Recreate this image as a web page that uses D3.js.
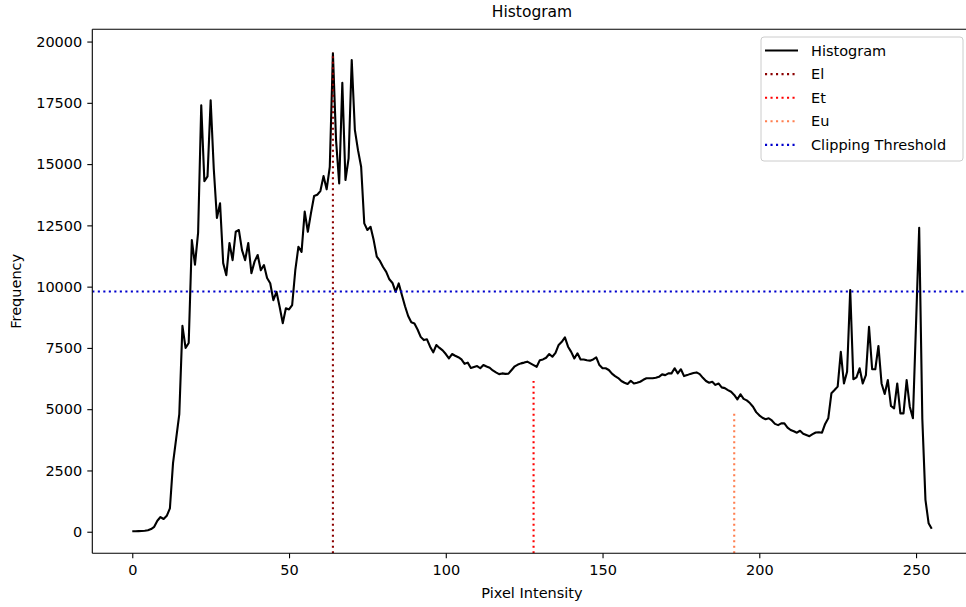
<!DOCTYPE html>
<html>
<head>
<meta charset="utf-8">
<script src="https://cdn.jsdelivr.net/npm/d3@7"></script>
<style>
  html, body { margin: 0; padding: 0; background: #fff; overflow: hidden; }
  text { font-family: "DejaVu Sans", sans-serif; fill: #000; }
</style>
</head>
<body>
<svg id="chart" width="966" height="607"></svg>
<script>
// Histogram frequencies for pixel intensities 0..255
const frequency = [
  20, 20, 25, 30, 40, 60, 110, 200, 450, 600,            // 0-9
  520, 650, 950, 2800, 3800, 4800, 8400, 7500, 7700, 11900, // 10-19
  10900, 12200, 17400, 14300, 14500, 17600, 14800, 12800, 13400, 10960, // 20-29
  10470, 11780, 11080, 12240, 12310, 11490, 11080, 11780, 10550, 11020, // 30-39
  11290, 10670, 10880, 10350, 10140, 9450, 9790, 9180, 8510, 9120, // 40-49
  9070, 9250, 10670, 11630, 11420, 13060, 12240, 13000, 13700, 13750, // 50-59
  13900, 14510, 13970, 14890, 19520, 15980, 14210, 18320, 14350, 15230, // 60-69
  19250, 16400, 15570, 14890, 12580, 12310, 12440, 11900, 11220, 11050, // 70-79
  10800, 10600, 10300, 10150, 9790, 10130, 9660, 9200, 8800, 8550, // 80-89
  8500, 8250, 7950, 7820, 7850, 7550, 7320, 7620, 7500, 7400, // 90-99
  7250, 7070, 7250, 7180, 7120, 7030, 6850, 6900, 6680, 6720, // 100-109
  6760, 6670, 6800, 6740, 6690, 6580, 6500, 6430, 6460, 6440, // 110-119
  6450, 6600, 6750, 6820, 6870, 6900, 6940, 6870, 6800, 6730, // 120-129
  7000, 7030, 7100, 7250, 7140, 7300, 7620, 7750, 7930, 7550, // 130-139
  7340, 7070, 7280, 7030, 7030, 7000, 6980, 7030, 7110, 6800, // 140-149
  6670, 6670, 6600, 6450, 6350, 6270, 6150, 6080, 6030, 6160, // 150-159
  6050, 6080, 6120, 6200, 6260, 6260, 6260, 6280, 6320, 6420, // 160-169
  6390, 6460, 6460, 6670, 6460, 6630, 6350, 6390, 6440, 6480, // 170-179
  6500, 6430, 6280, 6150, 6080, 6120, 5990, 6050, 5890, 5860, // 180-189
  5780, 5710, 5580, 5400, 5610, 5420, 5360, 5250, 5100, 4880, // 190-199
  4750, 4650, 4590, 4630, 4540, 4400, 4350, 4420, 4420, 4250, // 200-209
  4150, 4100, 4040, 4120, 4000, 3950, 3900, 3980, 4050, 4060, // 210-219
  4040, 4400, 4630, 5650, 5780, 5920, 7340, 6050, 6530, 9860, // 220-229
  6220, 6300, 6670, 6050, 6390, 8360, 6630, 6630, 7580, 6050, // 230-239
  5620, 6190, 5130, 5030, 6050, 4830, 4830, 6190, 5100, 4630, // 240-249
  8500, 12400, 4600, 1300, 350, 120                        // 250-255
];

// Threshold markers
const markerNames = ["El", "Et", "Eu"];
const markerX = [64, 128, 192];
const markerTop = [19550, 6150, 4830];
const markerColors = ["#8b0000", "red", "coral"];

const clipThreshold = 9800;

const xTicks = [0, 50, 100, 150, 200, 250];
const yTicks = [0, 2500, 5000, 7500, 10000, 12500, 15000, 17500, 20000];

const legendLabels = ["Histogram", "El", "Et", "Eu", "Clipping Threshold"];

// ---- layout ----
const svg = d3.select("#chart");
const mLeft = 92.3, mTop = 29.3, plotW = 879.4, plotH = 524;
const x = d3.scaleLinear().domain([-12.75, 267.75]).range([mLeft, mLeft + plotW]);
const y = d3.scaleLinear().domain([-880, 20500]).range([mTop + plotH, mTop]);

svg.append("defs").append("clipPath").attr("id", "plotclip")
  .append("rect").attr("x", mLeft).attr("y", mTop).attr("width", plotW).attr("height", plotH);

const plot = svg.append("g").attr("clip-path", "url(#plotclip)");

const line = d3.line().x((d, i) => x(i)).y(d => y(d));
plot.append("path")
  .datum(frequency)
  .attr("d", line)
  .attr("fill", "none")
  .attr("stroke", "#000")
  .attr("stroke-width", 2.1)
  .attr("stroke-linejoin", "round");

const dotted = "2.1,3.4";
markerX.forEach((mx, i) => {
  plot.append("line")
    .attr("x1", x(mx)).attr("x2", x(mx))
    .attr("y1", y(y.domain()[0])).attr("y2", y(markerTop[i]))
    .attr("stroke", markerColors[i])
    .attr("stroke-width", 2.1)
    .attr("stroke-dasharray", dotted);
});

plot.append("line")
  .attr("x1", x(x.domain()[0])).attr("x2", x(x.domain()[1]))
  .attr("y1", y(clipThreshold)).attr("y2", y(clipThreshold))
  .attr("stroke", "mediumblue")
  .attr("stroke-width", 2.1)
  .attr("stroke-dasharray", dotted);

// ---- axes ----
const xAxis = svg.append("g")
  .attr("transform", `translate(0,${mTop + plotH})`)
  .call(d3.axisBottom(x).tickValues(xTicks).tickSize(5).tickPadding(6).tickFormat(d3.format("d")));
const yAxis = svg.append("g")
  .attr("transform", `translate(${mLeft},0)`)
  .call(d3.axisLeft(y).tickValues(yTicks).tickSize(5).tickPadding(5).tickFormat(d3.format("d")));

[xAxis, yAxis].forEach(g => {
  g.select(".domain").remove();
  g.selectAll(".tick line").attr("stroke", "#000").attr("stroke-width", 1.1);
  g.selectAll(".tick text").attr("font-family", "DejaVu Sans").attr("font-size", 14.5).attr("fill", "#000");
});

// spines (the right spine lies beyond the canvas edge)
const spines = svg.append("g").attr("stroke", "#000").attr("stroke-width", 1.1);
spines.append("line").attr("x1", mLeft).attr("x2", mLeft).attr("y1", mTop).attr("y2", mTop + plotH);
spines.append("line").attr("x1", mLeft).attr("x2", mLeft + plotW).attr("y1", mTop).attr("y2", mTop);
spines.append("line").attr("x1", mLeft).attr("x2", mLeft + plotW).attr("y1", mTop + plotH).attr("y2", mTop + plotH);

// titles
svg.append("text").attr("x", mLeft + plotW / 2).attr("y", 12).attr("text-anchor", "middle")
  .attr("dominant-baseline", "middle").attr("font-size", 15.5).text("Histogram");
svg.append("text").attr("x", mLeft + plotW / 2).attr("y", 594).attr("text-anchor", "middle")
  .attr("dominant-baseline", "middle").attr("font-size", 14.5).text("Pixel Intensity");
svg.append("text")
  .attr("transform", `translate(17,${mTop + plotH / 2}) rotate(-90)`)
  .attr("text-anchor", "middle").attr("dominant-baseline", "middle")
  .attr("font-size", 14.5).text("Frequency");

// ---- legend ----
const lg = svg.append("g");
lg.append("rect")
  .attr("x", 761).attr("y", 37).attr("width", 202).attr("height", 124)
  .attr("rx", 3).attr("fill", "#fff").attr("fill-opacity", 0.8)
  .attr("stroke", "#cccccc").attr("stroke-width", 1);
const legendColors = ["#000"].concat(markerColors).concat(["mediumblue"]);
legendLabels.forEach((lab, i) => {
  const ly = 50.5 + i * 23.6;
  lg.append("line")
    .attr("x1", 765).attr("x2", 798).attr("y1", ly).attr("y2", ly)
    .attr("stroke", legendColors[i]).attr("stroke-width", 2.1)
    .attr("stroke-dasharray", i === 0 ? null : dotted);
  lg.append("text").attr("x", 811).attr("y", ly)
    .attr("dominant-baseline", "central").attr("font-size", 14.5).text(lab);
});
</script>
</body>
</html>
